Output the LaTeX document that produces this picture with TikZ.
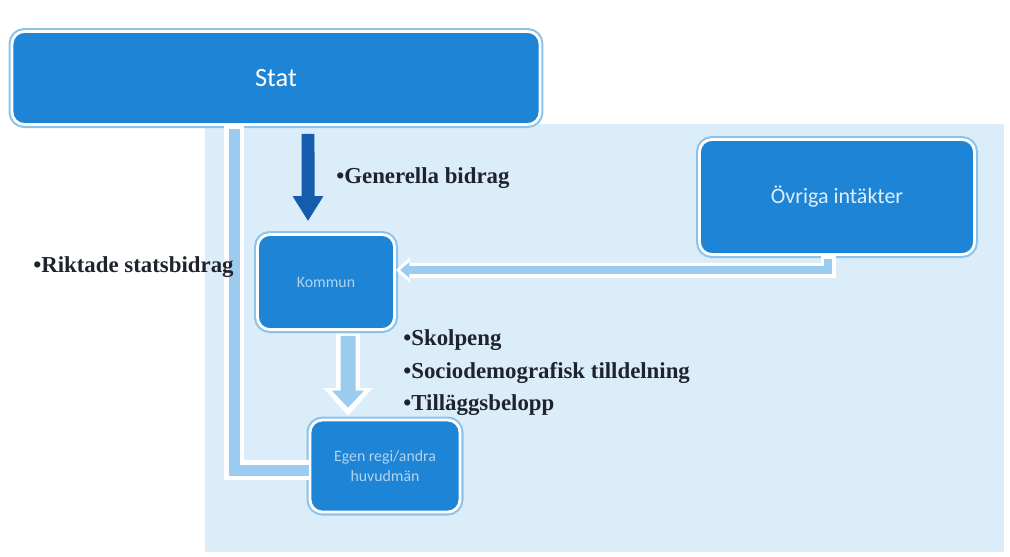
\documentclass[tikz,border=0pt]{standalone}
\usepackage{fontspec}
\setmainfont{Liberation Serif}
\newfontfamily\boxfont{Carlito}
\usetikzlibrary{arrows.meta}
\definecolor{boxblue}{RGB}{30,132,214}
\definecolor{darkarrow}{RGB}{22,92,172}
\definecolor{paleblue}{RGB}{155,203,238}
\definecolor{rimblue}{RGB}{140,195,235}
\definecolor{backblue}{RGB}{220,237,250}
\definecolor{labelink}{RGB}{30,35,45}
\begin{document}
\begin{tikzpicture}[x=0.02cm, y=-0.02cm,
  box/.style={rectangle, rounded corners=7pt, fill=boxblue, draw=white, line width=1.6pt,
    preaction={draw=rimblue, line width=4pt}, align=center, text=white, font=\boxfont},
  faint/.style={text=white!65!boxblue},
  label/.style={anchor=west, inner sep=0pt, text=labelink, font=\bfseries\fontsize{13}{15}\selectfont}]
\useasboundingbox (0,0) rectangle (1010,556);
\fill [backblue] (205,124) rectangle (1004,552);

\node [box, minimum width=10.56cm, minimum height=1.86cm, font=\boxfont\fontsize{15}{17}\selectfont] (stat) at (276,78) {Stat};
\node [box, minimum width=2.74cm, minimum height=1.9cm, faint, font=\boxfont\fontsize{9}{10}\selectfont] (kommun) at (326,282) {Kommun};
\node [box, minimum width=3.0cm, minimum height=1.84cm, faint, font=\boxfont\fontsize{9}{11}\selectfont] (huvudman) at (385,466) {Egen regi/andra\\huvudmän};
\node [box, minimum width=5.5cm, minimum height=2.3cm, text=white!85!boxblue, font=\boxfont\fontsize{12.5}{14}\selectfont] (ovriga) at (837,197) {Övriga intäkter};

\draw [white, line width=0.4cm] ([xshift=-0.84cm]stat.south) |- ([yshift=-0.08cm]huvudman.west);
\draw [paleblue, line width=0.22cm, shorten <=2pt] ([xshift=-0.84cm]stat.south) |- ([yshift=-0.08cm]huvudman.west);

\draw [white, line width=0.3cm, -{Triangle[width=0.5cm, length=0.28cm]}] ([xshift=-0.18cm]ovriga.south) |- ([yshift=0.24cm]kommun.east);
\draw [paleblue, line width=0.15cm, shorten <=2pt, shorten >=2.5pt, -{Triangle[width=0.3cm, length=0.18cm]}] ([xshift=-0.18cm]ovriga.south) |- ([yshift=0.24cm]kommun.east);

\draw [darkarrow, line width=0.26cm, shorten <=0.16cm, shorten >=0.24cm, -{Triangle[width=0.58cm, length=0.5cm]}] ([xshift=0.64cm]stat.south) -- ([xshift=-0.36cm]kommun.north);

\draw [white, line width=0.48cm, shorten <=0.06cm, shorten >=0.06cm, -{Triangle[width=0.95cm, length=0.55cm]}] ([xshift=0.44cm]kommun.south) -- ([xshift=-0.74cm]huvudman.north);
\draw [paleblue, line width=0.3cm, shorten <=0.1cm, shorten >=0.22cm, -{Triangle[width=0.62cm, length=0.34cm]}] ([xshift=0.44cm]kommun.south) -- ([xshift=-0.74cm]huvudman.north);

\node [label] (generella) at (336,178) {\textbullet Generella bidrag};
\node [label] (riktade) at (33,267) {\textbullet Riktade statsbidrag};
\node [label] (skolpeng) at (403,340) {\textbullet Skolpeng};
\node [label] (socio) at (403,373) {\textbullet Sociodemografisk tilldelning};
\node [label] (tillagg) at (403,405) {\textbullet Tilläggsbelopp};
\end{tikzpicture}
\end{document}
